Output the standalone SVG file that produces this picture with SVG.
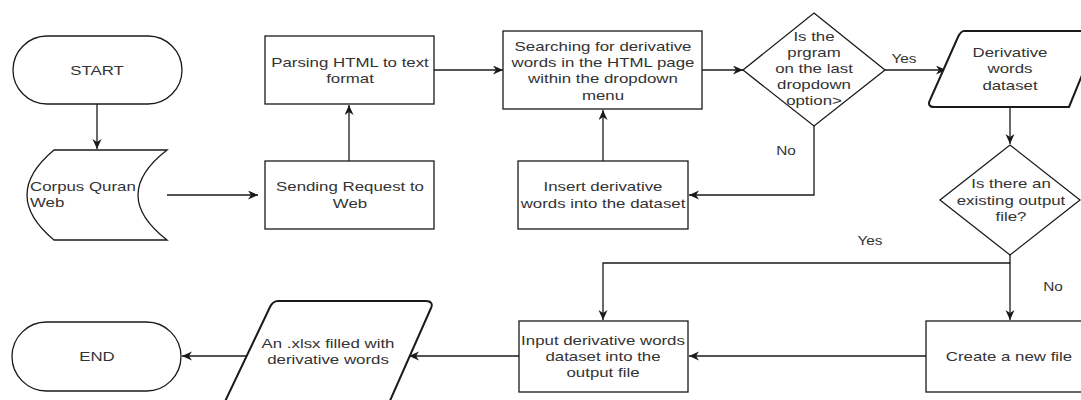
<svg xmlns="http://www.w3.org/2000/svg" width="1081" height="400" viewBox="0 0 1081 400">
<style>
.s{fill:#fff;stroke:#1a1a1a;stroke-width:1.3}
.p{fill:#fff;stroke:#1a1a1a;stroke-width:2;stroke-linejoin:round}
.t{font-family:"Liberation Sans",Arial,sans-serif;font-size:13.6px;fill:#333;text-anchor:middle}
.l{font-family:"Liberation Sans",Arial,sans-serif;font-size:12.4px;fill:#333;text-anchor:middle}
.c{fill:none;stroke:#1a1a1a;stroke-width:1.3}
</style>
<defs>
<marker id="a" markerUnits="userSpaceOnUse" markerWidth="12" markerHeight="10" refX="10" refY="4.5" orient="auto">
<path d="M0,0 L10,4.5 L0,9 L3,4.5 z" fill="#1a1a1a"/>
</marker>
</defs>
<rect width="1081" height="400" fill="#fff"/>
<g id="connectors">
<path class="c" d="M97,104 V149" marker-end="url(#a)"/>
<path class="c" d="M167,195 H258" marker-end="url(#a)"/>
<path class="c" d="M349,161 V105" marker-end="url(#a)"/>
<path class="c" d="M434,70 H503" marker-end="url(#a)"/>
<path class="c" d="M603,161 V110" marker-end="url(#a)"/>
<path class="c" d="M702,70 H743" marker-end="url(#a)"/>
<path class="c" d="M814,126 V195 H689" marker-end="url(#a)"/>
<path class="c" d="M885,70 H946" marker-end="url(#a)"/>
<path class="c" d="M1010,107 V144" marker-end="url(#a)"/>
<path class="c" d="M1010,255 V263 H603 V320" marker-end="url(#a)"/>
<path class="c" d="M1010,263 V320" marker-end="url(#a)"/>
<path class="c" d="M926,356 H689" marker-end="url(#a)"/>
<path class="c" d="M519,356 H409" marker-end="url(#a)"/>
<path class="c" d="M246,356 H182" marker-end="url(#a)"/>
<text class="l" transform="matrix(1.24 0 0 1 904 0)" y="63">Yes</text>
<text class="l" transform="matrix(1.24 0 0 1 786 0)" y="155">No</text>
<text class="l" transform="matrix(1.24 0 0 1 870 0)" y="245">Yes</text>
<text class="l" transform="matrix(1.24 0 0 1 1053 0)" y="291">No</text>
</g>
<g id="start">
<rect class="s" x="13" y="36" width="169" height="68" rx="34" ry="34"/>
<text class="t" transform="matrix(1.24 0 0 1 97 0)" y="75">START</text>
</g>
<g id="corpus">
<path class="s" d="M54,150 H167 Q109,195 167,240 H54 Q0,195 54,150 Z"/>
<text class="t" style="text-anchor:start" transform="matrix(1.24 0 0 1 30 0)"><tspan x="0" y="191">Corpus Quran</tspan><tspan x="0" y="207.5">Web</tspan></text>
</g>
<g id="sending">
<rect class="s" x="265" y="161" width="169" height="68"/>
<text class="t" transform="matrix(1.24 0 0 1 350 0)"><tspan x="0" y="191.5">Sending Request to</tspan><tspan x="0" y="208">Web</tspan></text>
</g>
<g id="parsing">
<rect class="s" x="265" y="36" width="169" height="68"/>
<text class="t" transform="matrix(1.24 0 0 1 350 0)"><tspan x="0" y="66.8">Parsing HTML to text</tspan><tspan x="0" y="83.2">format</tspan></text>
</g>
<g id="searching">
<rect class="s" x="503" y="31" width="199" height="78"/>
<text class="t" transform="matrix(1.24 0 0 1 603 0)"><tspan x="0" y="50.6">Searching for derivative</tspan><tspan x="0" y="67">words in the HTML page</tspan><tspan x="0" y="83.4">within the dropdown</tspan><tspan x="0" y="99.8">menu</tspan></text>
</g>
<g id="insert">
<rect class="s" x="518" y="161" width="170" height="68"/>
<text class="t" transform="matrix(1.24 0 0 1 603 0)"><tspan x="0" y="191.5">Insert derivative</tspan><tspan x="0" y="208">words into the dataset</tspan></text>
</g>
<g id="decision1">
<path class="s" d="M814,13 L885,70 L814,126 L743,70 Z"/>
<text class="t" transform="matrix(1.24 0 0 1 814 0)"><tspan x="0" y="41.5">Is the</tspan><tspan x="0" y="57.3">prgram</tspan><tspan x="0" y="73.1">on the last</tspan><tspan x="0" y="88.9">dropdown</tspan><tspan x="0" y="104.7">option&gt;</tspan></text>
</g>
<g id="dataset">
<path class="p" d="M964,31 H1100 L1069,107 H934 C929,107 928,104 930,100 L958,37 C960,33 962,31 964,31 Z"/>
<text class="t" transform="matrix(1.24 0 0 1 1010 0)"><tspan x="0" y="57">Derivative</tspan><tspan x="0" y="73.4">words</tspan><tspan x="0" y="89.8">dataset</tspan></text>
</g>
<g id="decision2">
<path class="s" d="M1010,145 L1080,200 L1010,255 L940,200 Z"/>
<text class="t" transform="matrix(1.24 0 0 1 1011 0)"><tspan x="0" y="188.5">Is there an</tspan><tspan x="0" y="205">existing output</tspan><tspan x="0" y="221.5">file?</tspan></text>
</g>
<g id="create">
<rect class="s" x="926" y="321" width="170" height="71"/>
<text class="t" transform="matrix(1.24 0 0 1 1009 0)" y="361">Create a new file</text>
</g>
<g id="input">
<rect class="s" x="519" y="321" width="169" height="71"/>
<text class="t" transform="matrix(1.24 0 0 1 603 0)"><tspan x="0" y="344.6">Input derivative words</tspan><tspan x="0" y="361">dataset into the</tspan><tspan x="0" y="377.4">output file</tspan></text>
</g>
<g id="xlsx">
<path class="p" d="M278,301 H426 C431,301 433,304 431,308 L385,412 H220 L270,307 C272,303 274,301 278,301 Z"/>
<text class="t" transform="matrix(1.24 0 0 1 328 0)"><tspan x="0" y="348">An .xlsx filled with</tspan><tspan x="0" y="364.5">derivative words</tspan></text>
</g>
<g id="end">
<rect class="s" x="12" y="322" width="169" height="69" rx="34.5" ry="34.5"/>
<text class="t" transform="matrix(1.24 0 0 1 97 0)" y="361">END</text>
</g>
</svg>
